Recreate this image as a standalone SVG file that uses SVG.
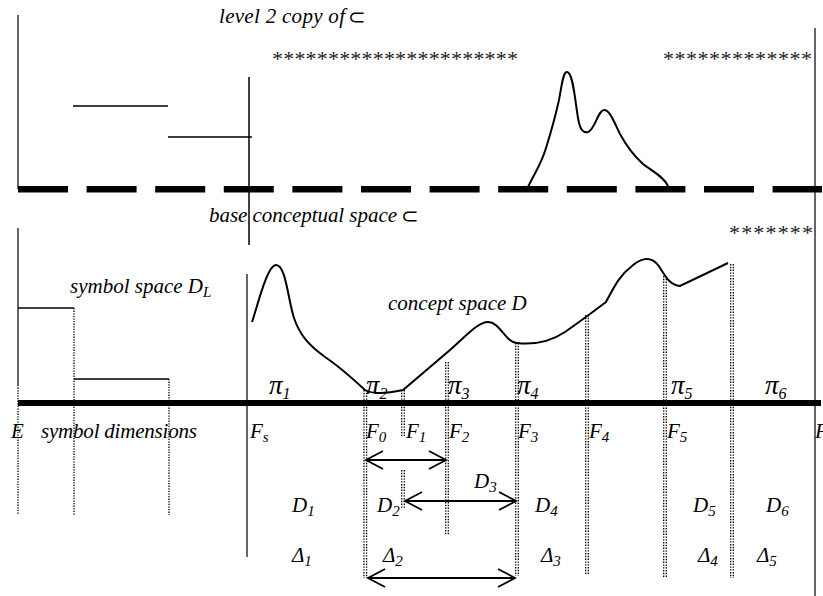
<svg xmlns="http://www.w3.org/2000/svg" width="823" height="596" viewBox="0 0 823 596">
<style>
.t{font-family:"Liberation Serif","Times New Roman",serif;font-style:italic;font-size:21px;fill:#000}
.s{font-size:15px}
.pi{font-size:27px}
.pi .s{font-size:16px}
.sym{font-family:"DejaVu Sans",sans-serif;font-style:normal;font-size:21px}
.star{font-family:"Liberation Serif",serif;font-size:22px;fill:#222}
.ln{stroke:#000;stroke-width:1.5;fill:none}
.gl{stroke:#333;stroke-width:1.5;fill:none}
.cv{stroke:#000;stroke-width:2;fill:none}
.dot{stroke:#000;stroke-width:1.3;stroke-dasharray:1.3 1.3;fill:none}
.dd{stroke:#000;stroke-width:1.3;stroke-dasharray:1.4 1.4;fill:none}
.arr{stroke:#000;stroke-width:1.8;fill:none;marker-start:url(#ah);marker-end:url(#ah)}
</style>
<defs>
<marker id="ah" viewBox="-19 -11 21 22" refX="0" refY="0" markerWidth="21" markerHeight="22" markerUnits="userSpaceOnUse" orient="auto-start-reverse">
<path d="M-17,-9 L0,0 L-17,9" fill="none" stroke="#000" stroke-width="1.8"/>
</marker>
</defs>
<rect width="823" height="596" fill="#fff"/>

<g id="level2">
<path class="gl" d="M18,15V189"/>
<path class="ln" d="M73,106H168M168,137H252"/>
<path class="ln" d="M249,77V245"/>
<path class="gl" d="M815,28V596"/>
<path class="cv" d="M528,187 C535,172 541,165 546,148 C551,132 555,118 559,100 C562,84 563,72 567,72 C573,72 575,100 578,118 C580,130 583,133 588,132 C595,130 598,110 604,110 C610,110 614,122 620,134 C627,147 633,155 643,164 C652,171 664,177 668,186"/>
<path d="M18,189.3H822" stroke="#000" stroke-width="6.5" stroke-dasharray="50 18.6" fill="none"/>
<text class="t" x="219" y="23" textLength="126" lengthAdjust="spacing">level 2 copy of</text>
<text class="t sym" x="348" y="24">⊂</text>
<text class="star" x="272" y="66" textLength="246" lengthAdjust="spacing">**********************</text>
<text class="star" x="663" y="66" textLength="149" lengthAdjust="spacing">*************</text>
</g>

<g id="base">
<text class="t" x="209" y="222" textLength="188" lengthAdjust="spacing">base conceptual space</text>
<text class="t sym" x="401" y="223">⊂</text>
<text class="star" x="729" y="240" textLength="84" lengthAdjust="spacing">*******</text>
</g>

<g id="symbol-space">
<path class="gl" d="M18,228V385"/>
<path class="ln" d="M18,308H74M74,379H169"/>
<path class="dot" d="M18,385V515M74,308V515M169,379V515"/>
<text class="t" x="70" y="293">symbol space D<tspan class="s" dy="4">L</tspan></text>
<text class="t" x="11" y="438">E</text>
<text class="t" x="41" y="438" textLength="156" lengthAdjust="spacing">symbol dimensions</text>
</g>

<g id="concept-space">
<path class="gl" d="M247,274V557"/>
<path class="cv" d="M252,322 C257,308 267,265 276,265 C286,265 288,300 294,318 C300,336 310,346 325,357 C340,367 352,378 365,390 C372,394 385,394 403,390 L450,350 C465,337 478,322 488,322 C500,322 505,342 517,343 C535,345 550,342 565,332 C585,318 598,308 606,302 C615,285 620,275 632,266 C640,259 650,255 658,265 C664,273 668,285 680,286 L728,263"/>
<text class="t" x="388" y="310">concept space D</text>
</g>

<g id="partitions">
<path class="dd" d="M364,390V578M366.6,390V578"/>
<path class="dd" d="M401.7,390V436M404.3,390V436M401.7,470V508M404.3,470V508"/>
<path class="dd" d="M445.7,362V535M448.3,362V535"/>
<path class="dd" d="M515.7,343V576M518.3,343V576"/>
<path class="dd" d="M585.7,315V575M588.3,315V575"/>
<path class="dd" d="M663.7,276V578M666.3,276V578"/>
<path class="dd" d="M730.7,264V578M733.3,264V578"/>
<text class="t pi" x="269" y="394">π<tspan class="s" dy="5">1</tspan></text>
<text class="t pi" x="366" y="394">π<tspan class="s" dy="5">2</tspan></text>
<text class="t pi" x="448" y="394">π<tspan class="s" dy="5">3</tspan></text>
<text class="t pi" x="517" y="394">π<tspan class="s" dy="5">4</tspan></text>
<text class="t pi" x="671" y="394">π<tspan class="s" dy="5">5</tspan></text>
<text class="t pi" x="765" y="394">π<tspan class="s" dy="5">6</tspan></text>
</g>

<path id="axis" d="M18,403H821" stroke="#000" stroke-width="6" fill="none"/>

<g id="labels">
<text class="t" x="250" y="438">F<tspan class="s" dy="4">s</tspan></text>
<text class="t" x="366" y="438">F<tspan class="s" dy="4">0</tspan></text>
<text class="t" x="406" y="438">F<tspan class="s" dy="4">1</tspan></text>
<text class="t" x="449" y="438">F<tspan class="s" dy="4">2</tspan></text>
<text class="t" x="518" y="438">F<tspan class="s" dy="4">3</tspan></text>
<text class="t" x="589" y="438">F<tspan class="s" dy="4">4</tspan></text>
<text class="t" x="667" y="438">F<tspan class="s" dy="4">5</tspan></text>
<text class="t" x="815" y="438">F</text>
<text class="t" x="292" y="512">D<tspan class="s" dy="4">1</tspan></text>
<text class="t" x="377" y="512">D<tspan class="s" dy="4">2</tspan></text>
<text class="t" x="474" y="488">D<tspan class="s" dy="4">3</tspan></text>
<text class="t" x="535" y="512">D<tspan class="s" dy="4">4</tspan></text>
<text class="t" x="693" y="512">D<tspan class="s" dy="4">5</tspan></text>
<text class="t" x="766" y="512">D<tspan class="s" dy="4">6</tspan></text>
<text class="t" x="292" y="562">Δ<tspan class="s" dy="4">1</tspan></text>
<text class="t" x="383" y="562">Δ<tspan class="s" dy="4">2</tspan></text>
<text class="t" x="541" y="562">Δ<tspan class="s" dy="4">3</tspan></text>
<text class="t" x="698" y="562">Δ<tspan class="s" dy="4">4</tspan></text>
<text class="t" x="757" y="562">Δ<tspan class="s" dy="4">5</tspan></text>
</g>

<g id="connectors">
<path class="arr" d="M366,460H446"/>
<path class="arr" d="M405,501H516"/>
<path class="arr" d="M368,578H515"/>
</g>
</svg>
